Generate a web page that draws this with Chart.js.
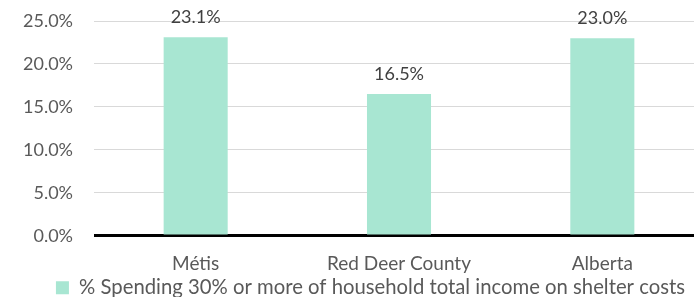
<!DOCTYPE html>
<html>
<head>
<meta charset="utf-8">
<script src="https://cdn.jsdelivr.net/npm/chart.js@4.4.0/dist/chart.umd.min.js"></script>
<style>
html, body { margin: 0; padding: 0; background: #fff; overflow: hidden; }
#wrap { width: 694px; height: 297px; overflow: hidden; }
</style>
</head>
<body>
<div id="wrap"><canvas id="chart1" width="704" height="325"></canvas></div>
<script>
var categories = ["Métis", "Red Deer County", "Alberta"];
var shelterValues = [23.1, 16.5, 23.0];
var seriesLabel = "% Spending 30% or more of household total income on shelter costs";
var yTicks = [0, 5, 10, 15, 20, 25];

// draws the value above each bar
var barLabels = {
  id: "barLabels",
  afterLayout: function (chart) {
    // pull the legend up close under the axis labels, ending near x=685
    chart.legend.right = 687;
    chart.legend.top -= 17;
    chart.legend.bottom -= 17;
  },
  afterDatasetsDraw: function (chart) {
    var ctx = chart.ctx;
    var meta = chart.getDatasetMeta(0);
    ctx.save();
    ctx.font = "18px Lato";
    ctx.fillStyle = "#404040";
    ctx.textAlign = "center";
    ctx.textBaseline = "middle";
    meta.data.forEach(function (bar, i) {
      ctx.fillText(shelterValues[i].toFixed(1) + "%", bar.x, bar.y - 20);
    });
    ctx.restore();
  }
};

var ctx = document.getElementById("chart1");
var chart1 = new Chart(ctx, {
  type: "bar",
  data: {
    labels: categories,
    datasets: [{
      label: seriesLabel,
      data: shelterValues,
      backgroundColor: "#a8e6d2",
      borderWidth: 0,
      barPercentage: 0.63,
      categoryPercentage: 0.5
    }]
  },
  options: {
    responsive: false,
    animation: false,
    layout: { padding: { top: 21, left: 0, right: 0, bottom: 0 } },
    plugins: {
      legend: {
        position: "bottom",
        align: "end",
        labels: {
          boxWidth: 13,
          boxHeight: 13,
          padding: 2,
          color: "#595959",
          font: { family: "Lato", size: 20.3 }
        }
      },
      tooltip: { enabled: false }
    },
    scales: {
      x: {
        grid: { display: false, drawTicks: false },
        border: { display: false },
        ticks: { color: "#595959", font: { family: "Lato", size: 19 }, padding: 17 }
      },
      y: {
        min: 0,
        max: 25,
        afterFit: function (scale) { scale.width = 94; },
        afterBuildTicks: function (scale) {
          scale.ticks = yTicks.map(function (v) { return { value: v }; });
        },
        border: { display: false },
        grid: {
          drawTicks: true,
          tickLength: 21,
          tickColor: "rgba(0,0,0,0)",
          color: function (c) { return c.tick && c.tick.value === 0 ? "#000000" : "#d9d9d9"; },
          lineWidth: function (c) { return c.tick && c.tick.value === 0 ? 3 : 1; }
        },
        ticks: {
          color: "#595959",
          font: { family: "Lato", size: 18 },
          padding: 0,
          callback: function (v) { return v.toFixed(1) + "%"; }
        }
      }
    }
  },
  plugins: [barLabels]
});
</script>
</body>
</html>
